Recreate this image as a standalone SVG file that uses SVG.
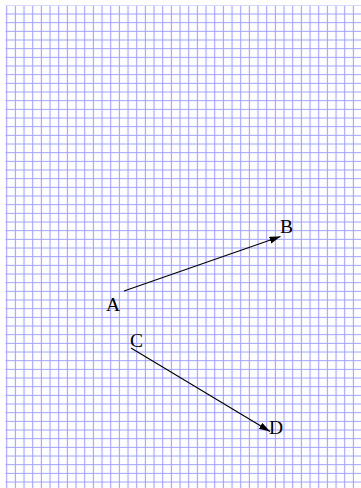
<svg xmlns="http://www.w3.org/2000/svg" width="361" height="488" viewBox="0 0 361 488">
<style>
.lbl{font-family:"Liberation Serif","Times New Roman",serif;font-size:19.5px;fill:#000}
.edge{stroke:#000;stroke-width:1.1;fill:none;marker-end:url(#arr)}
</style>
<defs>
<pattern id="grid" patternUnits="userSpaceOnUse" x="2.367" y="9.667" width="8.667" height="8.667">
<path d="M4.333 0V8.667M0 4.333H8.667" stroke="#a0a0ff" stroke-width="1.1" fill="none"/>
</pattern>
<marker id="arr" markerUnits="userSpaceOnUse" markerWidth="12" markerHeight="8" refX="11" refY="3.5" orient="auto">
<path d="M0 0L11 3.5L0 7z" fill="#000"/>
</marker>
</defs>
<rect width="361" height="488" fill="#fff"/>
<rect x="5.5" y="5.5" width="356" height="483" fill="url(#grid)"/>
<g id="connectors">
<path class="edge" d="M124 291L280.5 236.5"/>
<path class="edge" d="M131 348L270 431.5"/>
</g>
<g id="A"><text class="lbl" x="106" y="310.5">A</text></g>
<g id="B"><text class="lbl" x="280" y="233">B</text></g>
<g id="C"><text class="lbl" x="130" y="346.5">C</text></g>
<g id="D"><text class="lbl" x="269" y="433.5">D</text></g>
</svg>
